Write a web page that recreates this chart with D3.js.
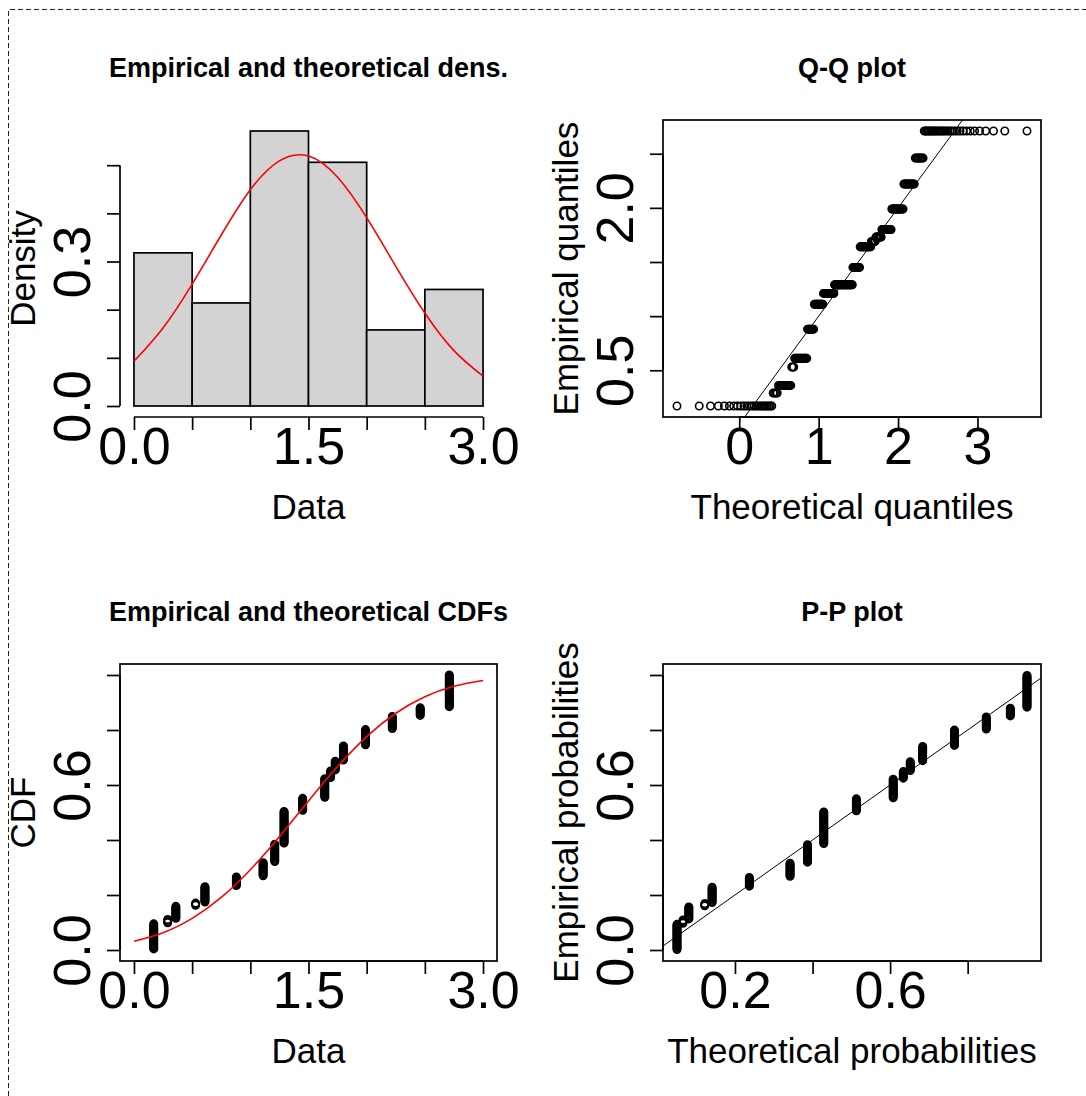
<!DOCTYPE html>
<html><head><meta charset="utf-8">
<script src="https://cdn.jsdelivr.net/npm/d3@7"></script>
<style>
body{margin:0;background:#fff}
text{font-family:"Liberation Sans",Arial,Helvetica,sans-serif;fill:#000}
</style>
</head><body>
<svg id="chart" width="1086" height="1096"></svg>
<script>
// ---------- data ----------
// distinct (tied) data values and how many observations share each value
const groupValues = [0.17,0.29,0.36,0.53,0.61,0.88,1.11,1.21,1.29,1.45,1.64,1.69,1.73,1.80,1.99,2.22,2.46,2.71];
const groupCounts = [24,4,12,3,15,9,13,17,30,12,18,7,9,14,15,12,8,30];
// theoretical probability of each distinct value (P-P plot x positions)
const groupTheoProb = [0.0505,0.066,0.081,0.122,0.141,0.237,0.342,0.387,0.429,0.513,0.608,0.634,0.652,0.684,0.766,0.848,0.910,0.953];
// histogram
const binEdges = [0,0.5,1.0,1.5,2.0,2.5,3.0];
const binDensity = [0.318,0.214,0.571,0.506,0.158,0.242];
// fitted (red) curves, read at these x positions
const curveX = [0,0.25,0.5,0.75,1.0,1.25,1.5,1.75,2.0,2.25,2.5,2.75,3.0];
const densCurveY = [0.093,0.162,0.253,0.355,0.449,0.509,0.519,0.475,0.391,0.290,0.193,0.115,0.062];
const cdfCurveY = [0.032,0.063,0.115,0.191,0.292,0.412,0.542,0.667,0.776,0.861,0.921,0.959,0.980];
// fitted normal parameters (used for Q-Q theoretical quantiles)
const fitMean = 1.42, fitSd = 0.765;
// titles / labels
const panelTitles = ["Empirical and theoretical dens.","Q-Q plot","Empirical and theoretical CDFs","P-P plot"];
const xLabels = ["Data","Theoretical quantiles","Data","Theoretical probabilities"];
const yLabels = ["Density","Empirical quantiles","CDF","Empirical probabilities"];
// ticks
const dataTicks = [0,0.5,1.0,1.5,2.0,2.5,3.0];
const dataTickLabels = ["0.0","","","1.5","","","3.0"];
const densTicks = [0,0.1,0.2,0.3,0.4,0.5];
const densTickLabels = ["0.0","","","0.3","",""];
const qqXTicks = [0,1,2,3];
const qqXTickLabels = ["0","1","2","3"];
const qqYTicks = [0.5,1.0,1.5,2.0,2.5];
const qqYTickLabels = ["0.5","","","2.0",""];
const probTicks = [0,0.2,0.4,0.6,0.8,1.0];
const probTickLabels = ["0.0","","","0.6","",""];
const ppXTicks = [0.2,0.4,0.6,0.8];
const ppXTickLabels = ["0.2","","0.6",""];

// ---------- helpers ----------
function rlim(a,b){const d=(b-a)*0.04;return [a-d,b+d];}
function qnormStd(p){ // Acklam inverse normal
  const a=[-3.969683028665376e+01,2.209460984245205e+02,-2.759285104469687e+02,1.383577518672690e+02,-3.066479806614716e+01,2.506628277459239e+00];
  const b=[-5.447609879822406e+01,1.615858368580409e+02,-1.556989798598866e+02,6.680131188771972e+01,-1.328068155288572e+01];
  const c=[-7.784894002430293e-03,-3.223964580411365e-01,-2.400758277161838e+00,-2.549732539343734e+00,4.374664141464968e+00,2.938163982698783e+00];
  const d=[7.784695709041462e-03,3.224671290700398e-01,2.445134137142996e+00,3.754408661907416e+00];
  const pl=0.02425;let q,r;
  if(p<pl){q=Math.sqrt(-2*Math.log(p));return (((((c[0]*q+c[1])*q+c[2])*q+c[3])*q+c[4])*q+c[5])/((((d[0]*q+d[1])*q+d[2])*q+d[3])*q+1);}
  if(p>1-pl){q=Math.sqrt(-2*Math.log(1-p));return -(((((c[0]*q+c[1])*q+c[2])*q+c[3])*q+c[4])*q+c[5])/((((d[0]*q+d[1])*q+d[2])*q+d[3])*q+1);}
  q=p-0.5;r=q*q;return (((((a[0]*r+a[1])*r+a[2])*r+a[3])*r+a[4])*r+a[5])*q/(((((b[0]*r+b[1])*r+b[2])*r+b[3])*r+b[4])*r+1);
}

// expanded sorted sample
const obs=[];
groupValues.forEach((v,k)=>{for(let j=0;j<groupCounts[k];j++)obs.push({v:v,g:k});});
const n=obs.length;
obs.forEach((o,i)=>{o.i=i+1;o.ecdf=(i+1)/n;o.pp=(i+0.5)/n;o.q=fitMean+fitSd*qnormStd((i+0.5)/n);});

// ---------- layout ----------
const svg=d3.select("#chart");
svg.append("rect").attr("width",1086).attr("height",1096).attr("fill","#fff");
const cols=[{x0:120,x1:497},{x0:663,x1:1041}];
const rows=[{y0:120,y1:417},{y0:664,y1:961}];
const LW=1.7, TICK=13, FS_TICK=52, FS_LAB=35, FS_TITLE=27;

// dashed frame
svg.append("path").attr("d","M8.5,1096V9.5H1086").attr("fill","none").attr("stroke","#222").attr("stroke-width",1).attr("stroke-dasharray","5,3");

function bottomAxis(g,scale,y,ticks,labels){
  const ax=d3.axisBottom(scale).tickValues(ticks).tickFormat((d,i)=>labels[i]).tickSize(TICK).tickSizeOuter(0);
  const a=g.append("g").attr("transform",`translate(0,${y})`).call(ax);
  a.select(".domain").attr("d",`M${scale(ticks[0])},0H${scale(ticks[ticks.length-1])}`).attr("stroke","#000").attr("stroke-width",LW);
  a.selectAll(".tick line").attr("stroke","#000").attr("stroke-width",LW);
  a.selectAll(".tick text").attr("y",47).attr("dy",0).attr("font-size",FS_TICK).attr("fill","#000")
    .style("font-family",'"Liberation Sans",Arial,sans-serif');
  a.attr("font-size",null).attr("font-family",null);
}
function leftAxis(g,scale,x,ticks,labels){
  const ax=d3.axisLeft(scale).tickValues(ticks).tickFormat((d,i)=>labels[i]).tickSize(TICK).tickSizeOuter(0);
  const a=g.append("g").attr("transform",`translate(${x},0)`).call(ax);
  a.select(".domain").attr("d",`M0,${scale(ticks[0])}V${scale(ticks[ticks.length-1])}`).attr("stroke","#000").attr("stroke-width",LW);
  a.selectAll(".tick line").attr("stroke","#000").attr("stroke-width",LW);
  a.selectAll(".tick text").attr("x",0).attr("y",-30).attr("dy",0).attr("transform","rotate(-90)")
    .attr("text-anchor","middle").attr("font-size",FS_TICK).attr("fill","#000")
    .style("font-family",'"Liberation Sans",Arial,sans-serif');
  a.attr("font-size",null).attr("font-family",null);
}
function decorate(ci,ri,k){
  const c=cols[ci],r=rows[ri];
  const cx=(c.x0+c.x1)/2, cy=(r.y0+r.y1)/2;
  svg.append("text").attr("x",cx).attr("y",r.y0-43).attr("text-anchor","middle")
    .attr("font-size",FS_TITLE).attr("font-weight","bold").text(panelTitles[k]);
  svg.append("text").attr("x",cx).attr("y",r.y1+102).attr("text-anchor","middle")
    .attr("font-size",FS_LAB).text(xLabels[k]);
  svg.append("text").attr("transform",`translate(${c.x0-85},${cy}) rotate(-90)`).attr("text-anchor","middle")
    .attr("font-size",FS_LAB).text(yLabels[k]);
}
function box(g,c,r){
  g.append("rect").attr("x",c.x0).attr("y",r.y0).attr("width",c.x1-c.x0).attr("height",r.y1-r.y0)
    .attr("fill","none").attr("stroke","#000").attr("stroke-width",LW);
}
function clip(id,c,r){
  svg.append("clipPath").attr("id",id).append("rect").attr("x",c.x0).attr("y",r.y0).attr("width",c.x1-c.x0).attr("height",r.y1-r.y0);
}
function points(g,data,fx,fy){
  g.selectAll("circle.pt").data(data).join("circle").attr("class","pt")
    .attr("cx",d=>fx(d)).attr("cy",d=>fy(d)).attr("r",3.7)
    .attr("fill","none").attr("stroke","#000").attr("stroke-width",1.6);
}

// ---------- panel 1: histogram + density ----------
{
  const c=cols[0],r=rows[0],g=svg.append("g");
  const x=d3.scaleLinear().domain(rlim(binEdges[0],binEdges[binEdges.length-1])).range([c.x0,c.x1]);
  const y=d3.scaleLinear().domain(rlim(0,d3.max(binDensity))).range([r.y1,r.y0]);
  g.selectAll("rect.bar").data(binDensity).join("rect").attr("class","bar")
    .attr("x",(d,i)=>x(binEdges[i])).attr("width",(d,i)=>x(binEdges[i+1])-x(binEdges[i]))
    .attr("y",d=>y(d)).attr("height",d=>y(0)-y(d))
    .attr("fill","#d3d3d3").attr("stroke","#000").attr("stroke-width",LW);
  const line=d3.line().x((d,i)=>x(curveX[i])).y(d=>y(d)).curve(d3.curveNatural);
  g.append("path").attr("d",line(densCurveY)).attr("fill","none").attr("stroke","#ff0000").attr("stroke-width",1.6);
  bottomAxis(g,x,r.y1,dataTicks,dataTickLabels);
  leftAxis(g,y,c.x0,densTicks,densTickLabels);
  decorate(0,0,0);
}
// ---------- panel 2: Q-Q plot ----------
{
  const c=cols[1],r=rows[0],g=svg.append("g");
  const x=d3.scaleLinear().domain(rlim(...d3.extent(obs,d=>d.q))).range([c.x0,c.x1]);
  const y=d3.scaleLinear().domain(rlim(...d3.extent(obs,d=>d.v))).range([r.y1,r.y0]);
  clip("clipQQ",c,r);
  const xd=x.domain();
  g.append("line").attr("clip-path","url(#clipQQ)")
    .attr("x1",x(xd[0])).attr("y1",y(xd[0])).attr("x2",x(xd[1])).attr("y2",y(xd[1]))
    .attr("stroke","#000").attr("stroke-width",1);
  points(g,obs,d=>x(d.q),d=>y(d.v));
  box(g,c,r);
  bottomAxis(g,x,r.y1,qqXTicks,qqXTickLabels);
  leftAxis(g,y,c.x0,qqYTicks,qqYTickLabels);
  decorate(1,0,1);
}
// ---------- panel 3: CDFs ----------
{
  const c=cols[0],r=rows[1],g=svg.append("g");
  const x=d3.scaleLinear().domain(rlim(binEdges[0],binEdges[binEdges.length-1])).range([c.x0,c.x1]);
  const y=d3.scaleLinear().domain(rlim(0,1)).range([r.y1,r.y0]);
  points(g,obs,d=>x(d.v),d=>y(d.ecdf));
  const line=d3.line().x((d,i)=>x(curveX[i])).y(d=>y(d)).curve(d3.curveNatural);
  g.append("path").attr("d",line(cdfCurveY)).attr("fill","none").attr("stroke","#ff0000").attr("stroke-width",1.6);
  box(g,c,r);
  bottomAxis(g,x,r.y1,dataTicks,dataTickLabels);
  leftAxis(g,y,c.x0,probTicks,probTickLabels);
  decorate(0,1,2);
}
// ---------- panel 4: P-P plot ----------
{
  const c=cols[1],r=rows[1],g=svg.append("g");
  const x=d3.scaleLinear().domain(rlim(d3.min(groupTheoProb),d3.max(groupTheoProb))).range([c.x0,c.x1]);
  const y=d3.scaleLinear().domain(rlim(0,1)).range([r.y1,r.y0]);
  clip("clipPP",c,r);
  const xd=x.domain();
  g.append("line").attr("clip-path","url(#clipPP)")
    .attr("x1",x(xd[0])).attr("y1",y(xd[0])).attr("x2",x(xd[1])).attr("y2",y(xd[1]))
    .attr("stroke","#000").attr("stroke-width",1);
  points(g,obs,d=>x(groupTheoProb[d.g]),d=>y(d.pp));
  box(g,c,r);
  bottomAxis(g,x,r.y1,ppXTicks,ppXTickLabels);
  leftAxis(g,y,c.x0,probTicks,probTickLabels);
  decorate(1,1,3);
}
</script>
</body></html>
